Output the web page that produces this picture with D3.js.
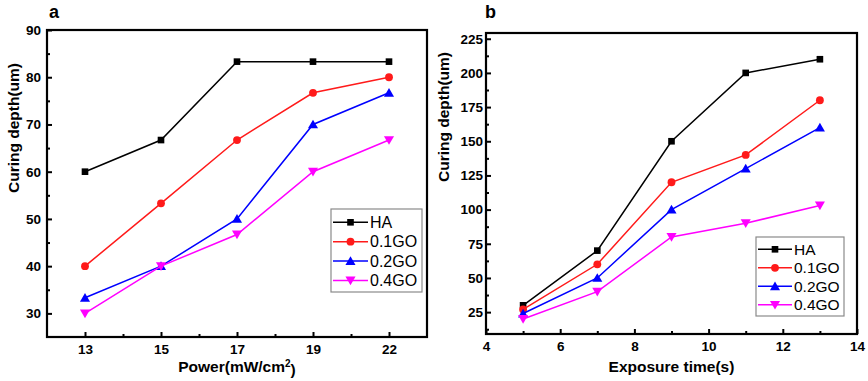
<!DOCTYPE html>
<html><head><meta charset="utf-8">
<script src="https://cdn.jsdelivr.net/npm/d3@7"></script>
<style>
body{margin:0;background:#fff;}
svg{display:block;font-family:"Liberation Sans",Arial,sans-serif;}
</style></head>
<body>
<svg id="chart" width="868" height="381"></svg>
<script>
// ---------- data ----------
const seriesNames = ["HA", "0.1GO", "0.2GO", "0.4GO"];
const seriesColors = ["#000000", "#ff1a1a", "#0000ff", "#ff00ff"];
const seriesShapes = ["square", "circle", "triangle", "triangleDown"];

// panel a
const powerLabels = ["13", "15", "17", "19", "22"];
const powerHA    = [60, 66.7, 83.3, 83.3, 83.3];
const power01GO  = [40, 53.3, 66.7, 76.7, 80];
const power02GO  = [33.3, 40, 50, 70, 76.7];
const power04GO  = [30, 40, 46.7, 60, 66.7];
const powerYTicks = [30, 40, 50, 60, 70, 80, 90];

// panel b
const exposureTimes = [5, 7, 9, 11, 13];
const expHA   = [30, 70, 150, 200, 210];
const exp01GO = [27, 60, 120, 140, 180];
const exp02GO = [24, 50, 100, 130, 160];
const exp04GO = [20, 40, 80, 90, 103];
const expXTicks = [4, 6, 8, 10, 12, 14];
const expYTicks = [25, 50, 75, 100, 125, 150, 175, 200, 225];

const svg = d3.select("#chart");

function symbolFor(shape, size) {
  const t = {square: d3.symbolSquare, circle: d3.symbolCircle, triangle: d3.symbolTriangle, triangleDown: d3.symbolTriangle}[shape];
  return d3.symbol().type(t).size(size)();
}

function drawPanel(cfg) {
  const g = svg.append("g");
  const {x, y} = cfg;
  const [x0, x1] = x.range();
  const [y0, y1] = y.range();

  // major/minor axes (inward ticks)
  const ax = g.append("g").attr("transform", `translate(0,${y0})`)
    .call(d3.axisBottom(x).tickValues(cfg.xTicks).tickFormat(cfg.xFormat).tickSize(-5).tickPadding(7));
  const axm = g.append("g").attr("transform", `translate(0,${y0})`)
    .call(d3.axisBottom(x).tickValues(cfg.xMinor).tickFormat("").tickSize(-3));
  const ay = g.append("g").attr("transform", `translate(${x0},0)`)
    .call(d3.axisLeft(y).tickValues(cfg.yTicks).tickSize(-5).tickPadding(cfg.yPad));
  const aym = g.append("g").attr("transform", `translate(${x0},0)`)
    .call(d3.axisLeft(y).tickValues(cfg.yMinor).tickFormat("").tickSize(-3));
  [ax, axm, ay, aym].forEach(a => {
    a.select(".domain").remove();
    a.selectAll(".tick line").attr("stroke", "#000").attr("stroke-width", 2);
    a.selectAll(".tick text").attr("fill", "#000").style("font-size", "13.5px").style("font-weight", "bold");
  });
  ax.selectAll(".tick text").attr("dy", "0.71em");

  // frame
  g.append("rect").attr("x", x0).attr("y", y1).attr("width", x1 - x0).attr("height", y0 - y1)
    .attr("fill", "none").attr("stroke", "#000").attr("stroke-width", 2.2);

  // series
  cfg.series.forEach((vals, i) => {
    const pts = vals.map((v, j) => [x(cfg.xVals[j]), y(v)]);
    g.append("path").attr("d", d3.line()(pts)).attr("fill", "none")
      .attr("stroke", seriesColors[i]).attr("stroke-width", 1.5);
    const shape = seriesShapes[i];
    g.selectAll(null).data(pts).enter().append("path")
      .attr("d", symbolFor(shape, shape === "circle" ? 48 : (shape === "square" ? 44 : 44)))
      .attr("transform", d => `translate(${d[0]},${d[1] + (shape === "triangle" ? 1 : shape === "triangleDown" ? -1 : 0)})${shape === "triangleDown" ? " rotate(180)" : ""}`)
      .attr("fill", seriesColors[i]);
  });

  // legend
  const L = cfg.legend;
  g.append("rect").attr("x", L.x).attr("y", L.y).attr("width", L.w).attr("height", L.h)
    .attr("fill", "#fff").attr("stroke", "#8a8a8a").attr("stroke-width", 1.2);
  seriesNames.forEach((name, i) => {
    const yy = L.y + L.first + i * L.step;
    g.append("line").attr("x1", L.x + 2).attr("x2", L.x + 2 + L.lineW).attr("y1", yy).attr("y2", yy)
      .attr("stroke", seriesColors[i]).attr("stroke-width", 1.5);
    const shape = seriesShapes[i];
    g.append("path").attr("d", symbolFor(shape, shape === "circle" ? 48 : 44))
      .attr("transform", `translate(${L.x + 2 + L.lineW / 2},${yy + (shape === "triangle" ? 1 : shape === "triangleDown" ? -1 : 0)})${shape === "triangleDown" ? " rotate(180)" : ""}`)
      .attr("fill", seriesColors[i]);
    g.append("text").attr("x", L.x + 4 + L.lineW).attr("y", yy).attr("dy", "0.36em")
      .style("font-size", L.fs).text(name);
  });

  // titles
  const xt = g.append("text").attr("x", (x0 + x1) / 2).attr("y", 372).attr("text-anchor", "middle")
    .style("font-size", "15.5px").style("font-weight", "bold").text(cfg.xTitle);
  if (cfg.xSup) xt.append("tspan").attr("dy", "-0.5em").style("font-size", "10px").text(cfg.xSup);
  if (cfg.xSup) xt.append("tspan").attr("dy", "0.5em").text(")");
  g.append("text").attr("transform", `translate(${cfg.yTitleX},${cfg.yTitleY}) rotate(-90)`)
    .attr("text-anchor", "middle").style("font-size", "15.5px").style("font-weight", "bold").text("Curing depth(um)");
  g.append("text").attr("x", cfg.letterX).attr("y", 18).style("font-size", "18px").style("font-weight", "bold").text(cfg.letter);
}

// panel a
const xa = d3.scaleLinear().domain([-0.5, 4.5]).range([47, 427]);
const ya = d3.scaleLinear().domain([25, 90]).range([337, 30]);
drawPanel({
  x: xa, y: ya,
  xVals: powerLabels.map((d, i) => i),
  xTicks: powerLabels.map((d, i) => i),
  xFormat: i => powerLabels[i],
  xMinor: [0.5, 1.5, 2.5, 3.5],
  yTicks: powerYTicks,
  yMinor: [35, 45, 55, 65, 75, 85],
  yPad: 6,
  series: [powerHA, power01GO, power02GO, power04GO],
  legend: {x: 331, y: 209, w: 91, h: 83, first: 13.3, step: 19.4, lineW: 35, fs: "16px"},
  xTitle: "Power(mW/cm", xSup: "2",
  yTitleX: 19, yTitleY: 128,
  letter: "a", letterX: 49
});

// panel b
const xb = d3.scaleLinear().domain([4, 14]).range([486, 857]);
const yb = d3.scaleLinear().domain([9, 229.2]).range([334, 33]);
drawPanel({
  x: xb, y: yb,
  xVals: exposureTimes,
  xTicks: expXTicks,
  xFormat: d3.format("d"),
  xMinor: [5, 7, 9, 11, 13],
  yTicks: expYTicks,
  yMinor: [12.5, 37.5, 62.5, 87.5, 112.5, 137.5, 162.5, 187.5, 212.5],
  yPad: 3,
  series: [expHA, exp01GO, exp02GO, exp04GO],
  legend: {x: 756, y: 237, w: 88, h: 79, first: 12.3, step: 18.5, lineW: 34, fs: "15.5px"},
  xTitle: "Exposure time(s)", xSup: null,
  yTitleX: 449, yTitleY: 117,
  letter: "b", letterX: 485
});
</script>
</body></html>
